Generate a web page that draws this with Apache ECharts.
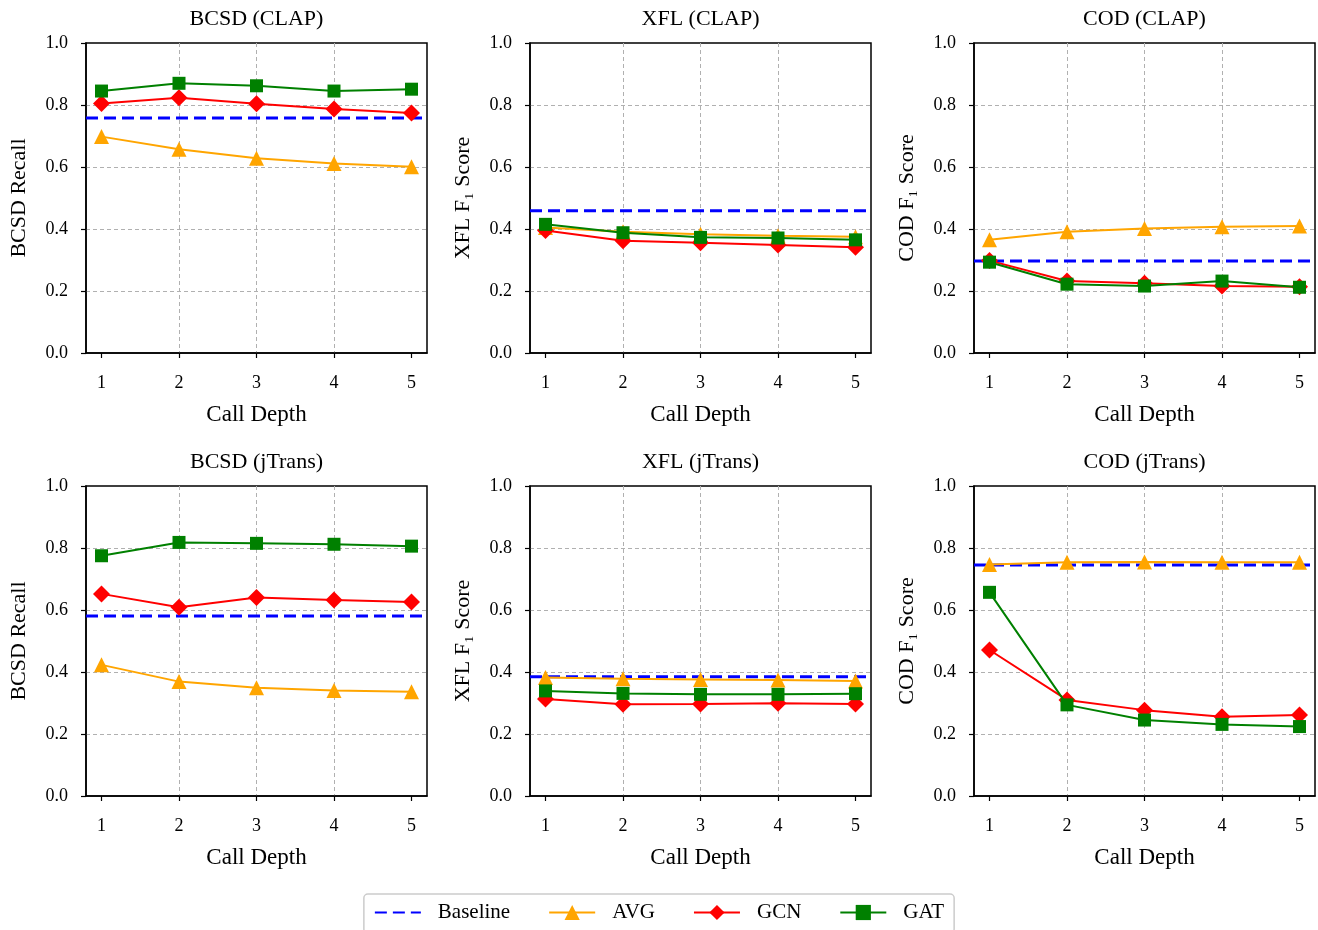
<!DOCTYPE html>
<html><head><meta charset="utf-8">
<script src="https://cdn.jsdelivr.net/npm/echarts@6/dist/echarts.min.js"></script>
<style>html,body{margin:0;padding:0;background:#fff}#c{width:1318px;height:930px}</style>
</head><body><div id="c"></div>
<script>
const depths = [1, 2, 3, 4, 5];
const yTicks = [0.0, 0.2, 0.4, 0.6, 0.8, 1.0];
const titles = ['BCSD (CLAP)', 'XFL (CLAP)', 'COD (CLAP)', 'BCSD (jTrans)', 'XFL (jTrans)', 'COD (jTrans)'];
const yNames = ['BCSD Recall', 'XFL F\u2081 Score', 'COD F\u2081 Score', 'BCSD Recall', 'XFL F\u2081 Score', 'COD F\u2081 Score'];
const xName = 'Call Depth';
const baseline = [0.758, 0.459, 0.297, 0.581, 0.385, 0.745];
const avgVals = [
  [0.698, 0.657, 0.628, 0.611, 0.601],
  [0.405, 0.391, 0.383, 0.378, 0.375],
  [0.365, 0.391, 0.402, 0.407, 0.410],
  [0.423, 0.369, 0.349, 0.340, 0.336],
  [0.382, 0.378, 0.376, 0.374, 0.371],
  [0.747, 0.754, 0.755, 0.754, 0.754]
];
const gcnVals = [
  [0.805, 0.823, 0.804, 0.787, 0.774],
  [0.395, 0.362, 0.356, 0.348, 0.341],
  [0.298, 0.232, 0.225, 0.216, 0.214],
  [0.652, 0.609, 0.640, 0.632, 0.626],
  [0.313, 0.296, 0.297, 0.299, 0.297],
  [0.471, 0.310, 0.277, 0.256, 0.261]
];
const gatVals = [
  [0.845, 0.870, 0.862, 0.845, 0.851],
  [0.415, 0.388, 0.373, 0.371, 0.365],
  [0.293, 0.222, 0.216, 0.232, 0.212],
  [0.775, 0.818, 0.815, 0.812, 0.806],
  [0.339, 0.331, 0.328, 0.328, 0.330],
  [0.657, 0.294, 0.245, 0.231, 0.224]
];

const FONT = 'Liberation Serif';
const lefts = [86, 530, 974];
const tops = [43, 486];
const W = 341, H = 310;
const XMIN = 0.8, XMAX = 5.2;
const C = {base: '#0000ff', avg: '#ffa500', gcn: '#ff0000', gat: '#008000'};

const grids = [], xAxes = [], yAxes = [], series = [], title = [];
for (let i = 0; i < 6; i++) {
  const r = Math.floor(i / 3), c = i % 3;
  grids.push({left: lefts[c], top: tops[r], width: W, height: H, show: true,
    borderColor: '#000', borderWidth: 1.5, backgroundColor: 'transparent', containLabel: false});
  title.push({text: titles[i], left: lefts[c] + W / 2, top: tops[r] - 35, textAlign: 'center', padding: 0,
    textStyle: {fontFamily: FONT, fontSize: 22, fontWeight: 'normal', color: '#000'}});
  xAxes.push({type: 'value', gridIndex: i, min: XMIN, max: XMAX,
    name: xName, nameLocation: 'middle', nameGap: 50,
    nameTextStyle: {fontFamily: FONT, fontSize: 23, color: '#000'},
    axisLine: {show: true, onZero: false, lineStyle: {color: '#000', width: 1.5}},
    axisTick: {show: true, inside: false, length: 5, customValues: depths, lineStyle: {color: '#000', width: 1.2}},
    axisLabel: {show: true, customValues: depths, fontFamily: FONT, fontSize: 18, color: '#000', margin: 21,
      formatter: v => String(v)},
    splitLine: {show: true, showMinLine: false, showMaxLine: false, lineStyle: {color: '#b0b0b0', type: [4, 3], width: 1}}
  });
  yAxes.push({type: 'value', gridIndex: i, min: 0, max: 1, interval: 0.2,
    name: yNames[i], nameLocation: 'middle', nameGap: 56, nameRotate: 90,
    nameTextStyle: {fontFamily: FONT, fontSize: 22, color: '#000'},
    axisLine: {show: true, lineStyle: {color: '#000', width: 1.5}},
    axisTick: {show: true, inside: false, length: 5, lineStyle: {color: '#000', width: 1.2}},
    axisLabel: {fontFamily: FONT, fontSize: 18, color: '#000', margin: 18, formatter: v => v.toFixed(1)},
    splitLine: {show: true, showMinLine: false, showMaxLine: false, lineStyle: {color: '#b0b0b0', type: [4, 3], width: 1}}
  });
  series.push({name: 'Baseline', type: 'line', xAxisIndex: i, yAxisIndex: i,
    data: [[XMIN, baseline[i]], [XMAX, baseline[i]]], showSymbol: false, symbol: 'none',
    lineStyle: {color: C.base, width: 3, type: [12, 6]}, itemStyle: {color: C.base}, z: 2, animation: false});
  const mk = (name, vals, color, symbol, size, z) => ({name, type: 'line', xAxisIndex: i, yAxisIndex: i,
    data: depths.map((d, k) => [d, vals[k]]), symbol, symbolSize: size, showAllSymbol: true,
    lineStyle: {color, width: 2}, itemStyle: {color, borderWidth: 0}, z, animation: false});
  series.push(mk('AVG', avgVals[i], C.avg, 'triangle', 15, 3));
  series.push(mk('GCN', gcnVals[i], C.gcn, 'diamond', 17, 4));
  series.push(mk('GAT', gatVals[i], C.gat, 'rect', 13, 5));
}

const chart = echarts.init(document.getElementById('c'), null, {renderer: 'canvas'});
chart.setOption({
  backgroundColor: '#fff',
  animation: false,
  title, grid: grids, xAxis: xAxes, yAxis: yAxes, series,
  legend: {data: [{name: 'Baseline', itemStyle: {opacity: 0}}, 'AVG', 'GCN', 'GAT'], left: 'center', top: 894,
    itemWidth: 46, itemHeight: 19, itemGap: 38, padding: [8, 10, 10, 10],
    borderColor: '#cccccc', borderWidth: 1.5, borderRadius: 4, backgroundColor: '#fff',
    textStyle: {fontFamily: FONT, fontSize: 21, color: '#000', padding: [0, 0, 0, 12]}}
});
</script></body></html>
